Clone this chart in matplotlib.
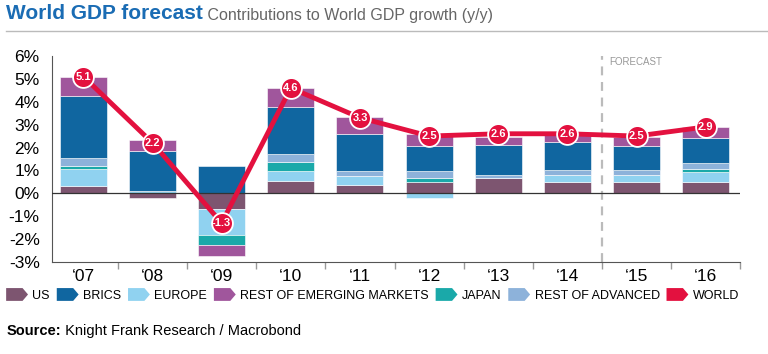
import numpy as np
import matplotlib.pyplot as plt
from matplotlib.patches import Patch, Polygon
from matplotlib.legend_handler import HandlerPatch
from matplotlib.lines import Line2D

plt.rcParams['font.family'] = ['Liberation Sans', 'DejaVu Sans']

# Data (contributions to world GDP growth, % pts)
years = ['‘07', '‘08', '‘09', '‘10', '‘11', '‘12', '‘13', '‘14', '‘15', '‘16']
us = [0.32, -0.19, -0.68, 0.54, 0.37, 0.50, 0.65, 0.50, 0.50, 0.50]
europe = [0.76, 0.10, -1.13, 0.44, 0.37, -0.19, 0.0, 0.31, 0.31, 0.44]
japan = [0.12, 0.0, -0.44, 0.37, 0.0, 0.15, 0.0, 0.0, 0.0, 0.13]
rest_adv = [0.34, 0.0, 0.0, 0.37, 0.22, 0.32, 0.15, 0.22, 0.22, 0.25]
brics = [2.70, 1.74, 1.18, 2.06, 1.65, 1.09, 1.29, 1.21, 1.03, 1.10]
rest_em = [0.82, 0.50, -0.51, 0.84, 0.72, 0.51, 0.37, 0.29, 0.40, 0.47]
world = [5.1, 2.2, -1.3, 4.6, 3.3, 2.5, 2.6, 2.6, 2.5, 2.9]

c_us = '#7d5570'
c_brics = '#1066a0'
c_europe = '#90d2f0'
c_rem = '#a0569c'
c_japan = '#1aa9a9'
c_radv = '#8db2da'
c_world = '#e3113f'

# stacking order from the zero line outward
stack = [(us, c_us), (europe, c_europe), (japan, c_japan),
         (rest_adv, c_radv), (brics, c_brics), (rest_em, c_rem)]

fig = plt.figure(figsize=(7.68, 3.54), dpi=100)
ax = fig.add_axes([0.068, 0.26, 0.896, 0.582])

x = np.arange(len(years))
pos = np.zeros(len(years))
neg = np.zeros(len(years))
for vals, col in stack:
    v = np.array(vals)
    b = np.where(v >= 0, pos, neg)
    ax.bar(x, v, bottom=b, width=0.68, color=col, edgecolor='white',
           linewidth=0.4, zorder=2)
    pos = pos + np.where(v > 0, v, 0)
    neg = neg + np.where(v < 0, v, 0)

ax.axhline(0, color='#333333', lw=0.9, zorder=3)

# forecast divider
ax.axvline(7.5, color='#bbbbbb', lw=1.6, ls=(0, (4, 3)), zorder=1)
ax.text(7.6, 5.75, 'FORECAST', color='#999999', fontsize=7, va='center', ha='left')

# world line with labelled markers
ax.plot(x, world, color=c_world, lw=3.5, zorder=4)
ax.plot(x, world, 'o', ms=15, mfc=c_world, mec='white', mew=1.3, zorder=5)
for xi, w in zip(x, world):
    ax.text(xi, w, f'{w:.1f}', color='white', fontsize=8, fontweight='bold',
            ha='center', va='center', zorder=6)

ax.set_xlim(-0.45, 9.5)
ax.set_ylim(-3, 6)
ax.set_yticks(range(-3, 7))
ax.set_yticklabels([f'{v}%' for v in range(-3, 7)], fontsize=12.5)
ax.set_xticks(x)
ax.set_xticklabels(years, fontsize=12.5)
ax.set_xticks(np.arange(0.5, 10, 1), minor=True)
ax.tick_params(axis='x', which='major', length=0, pad=5)
ax.tick_params(axis='x', which='minor', length=5, color='#999999', width=1)
ax.tick_params(axis='y', length=0, pad=9)
for s in ['top', 'right']:
    ax.spines[s].set_visible(False)
ax.spines['left'].set_color('#555555')
ax.spines['bottom'].set_color('#555555')


class HandlerChevron(HandlerPatch):
    def create_artists(self, legend, orig_handle, xdescent, ydescent,
                       width, height, fontsize, trans):
        x0, y0 = -xdescent, -ydescent
        pts = [[x0, y0], [x0 + width * 0.75, y0], [x0 + width, y0 + height / 2],
               [x0 + width * 0.75, y0 + height], [x0, y0 + height]]
        return [Polygon(pts, closed=True, facecolor=orig_handle.get_facecolor(),
                        edgecolor='none', transform=trans)]


labels = ['US', 'BRICS', 'EUROPE', 'REST OF EMERGING MARKETS', 'JAPAN',
          'REST OF ADVANCED', 'WORLD']
cols = [c_us, c_brics, c_europe, c_rem, c_japan, c_radv, c_world]
handles = [Patch(facecolor=c) for c in cols]
fig.legend(handles, labels, handler_map={Patch: HandlerChevron()},
           loc='center left', bbox_to_anchor=(0.008, 0.167), ncol=7,
           frameon=False, fontsize=9, handlelength=1.75, handleheight=1.2,
           handletextpad=0.35, columnspacing=0.55, borderpad=0, borderaxespad=0)

# title
t = fig.text(0.008, 0.945, 'World GDP forecast', color='#1a6cb4', fontsize=15,
             fontweight='bold', va='baseline')
fig.add_artist(plt.Annotation(' Contributions to World GDP growth (y/y)',
                              xy=(1, 0), xycoords=t, va='bottom',
                              color='#666666', fontsize=11.5))
fig.add_artist(Line2D([0.008, 1.0], [0.912, 0.912], color='#bbbbbb', lw=1))

# source
s = fig.text(0.008, 0.055, 'Source:', fontsize=10.5, fontweight='bold', va='baseline')
fig.add_artist(plt.Annotation(' Knight Frank Research / Macrobond', xy=(1, 0),
                              xycoords=s, va='bottom', fontsize=10.5))

fig.savefig('out.png', dpi=100)
